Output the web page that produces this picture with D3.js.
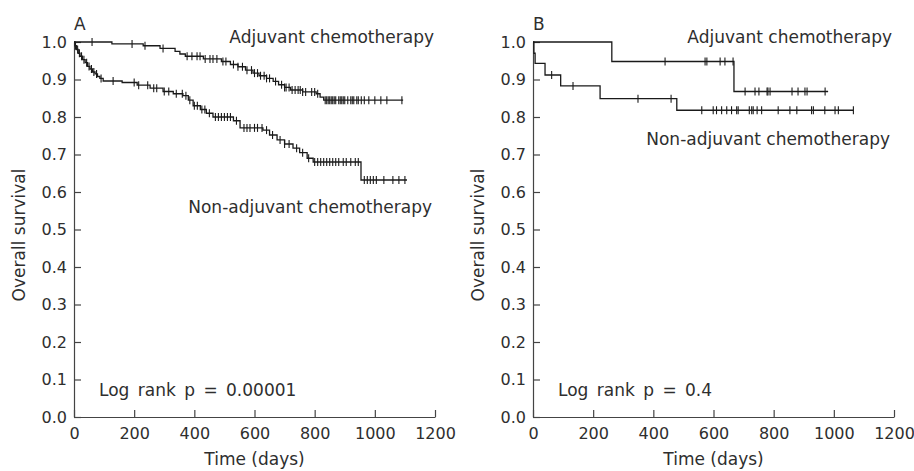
<!DOCTYPE html>
<html lang="en">
<head>
<meta charset="UTF-8" />
<title>Overall survival, adjuvant vs non-adjuvant chemotherapy</title>
<script src="https://d3js.org/d3.v7.min.js"></script>
<style>
    body { margin: 0; background: #fff; }
    svg { display: block; }
    text { font-family: "DejaVu Sans", sans-serif; fill: #2e2e2e; }
</style>
</head>
<body>
<div id="chart"></div>
<script>
    const width = 914;
    const height = 471;

    // tick values
    const xTicks = [0, 200, 400, 600, 800, 1000, 1200];
    const yTicks = [0, 0.1, 0.2, 0.3, 0.4, 0.5, 0.6, 0.7, 0.8, 0.9, 1.0];

    // panel A, adjuvant: [day, survival after the step]
    const aAdjSteps = [[0, 1.0], [126, 0.995], [230, 0.99], [286, 0.983], [336, 0.975], [352, 0.968], [370, 0.962],
        [430, 0.955], [490, 0.948], [520, 0.94], [545, 0.934], [570, 0.925], [595, 0.917], [615, 0.91], [640, 0.903],
        [662, 0.895], [680, 0.886], [700, 0.879], [720, 0.872], [760, 0.867], [805, 0.862], [818, 0.853], [830, 0.845]];
    const aAdjEnd = 1094;
    const aAdjCensor = [60, 193, 236, 296, 376, 392, 409, 419, 436, 452, 462, 475, 495, 505, 530, 545, 560, 575, 590, 600,
        610, 620, 632, 640, 650, 670, 690, 700, 705, 715, 725, 735, 745, 752, 760, 770, 790, 800, 810, 835, 840, 845, 850,
        855, 860, 865, 870, 880, 885, 890, 895, 900, 910, 920, 925, 930, 940, 945, 955, 965, 980, 1000, 1020, 1040, 1090];

    // panel A, non-adjuvant
    const aNonSteps = [[0, 1.0], [3, 0.99], [8, 0.98], [14, 0.97], [20, 0.962], [28, 0.953], [37, 0.945], [45, 0.935],
        [53, 0.928], [62, 0.92], [70, 0.915], [78, 0.908], [86, 0.903], [97, 0.896], [160, 0.892], [210, 0.885],
        [253, 0.877], [296, 0.868], [330, 0.862], [362, 0.857], [380, 0.845], [396, 0.83], [420, 0.82], [440, 0.81],
        [462, 0.80], [530, 0.79], [552, 0.771], [628, 0.765], [650, 0.752], [675, 0.739], [700, 0.728], [728, 0.717],
        [750, 0.705], [775, 0.69], [795, 0.68], [954, 0.632]];
    const aNonEnd = 1107;
    const aNonCensor = [5, 12, 18, 25, 33, 42, 50, 58, 66, 75, 90, 130, 200, 215, 245, 265, 275, 300, 315, 340, 360, 372,
        385, 400, 410, 425, 435, 450, 470, 480, 490, 500, 510, 520, 540, 565, 575, 585, 600, 610, 625, 640, 660, 685, 700,
        715, 740, 760, 780, 800, 810, 820, 830, 840, 850, 860, 870, 880, 895, 905, 920, 935, 945, 965, 975, 985, 995, 1005,
        1030, 1060, 1080, 1100];

    // panel B, adjuvant
    const bAdjSteps = [[0, 1.0], [262, 0.948], [668, 0.868]];
    const bAdjEnd = 981;
    const bAdjCensor = [439, 572, 578, 622, 638, 665, 705, 738, 751, 778, 781, 788, 861, 881, 904, 911, 971];

    // panel B, non-adjuvant
    const bNonSteps = [[0, 1.0], [3, 0.97], [7, 0.943], [40, 0.912], [92, 0.883], [223, 0.849], [478, 0.818]];
    const bNonEnd = 1065;
    const bNonCensor = [62, 133, 349, 459, 561, 599, 610, 627, 644, 660, 677, 682, 719, 727, 732, 745, 760, 815, 854, 877,
        926, 932, 970, 1004, 1015, 1065];

    const svg = d3.select("#chart").append("svg")
        .attr("width", width)
        .attr("height", height);

    const plotTop = 42, plotBottom = 417, plotW = 361;

    function drawPanel(left, letter, curves, labels, pText) {
        const x = d3.scaleLinear().domain([0, 1200]).range([left, left + plotW]);
        const y = d3.scaleLinear().domain([0, 1]).range([plotBottom, plotTop]);
        const g = svg.append("g");

        const xAxis = g.append("g")
            .attr("transform", `translate(0,${plotBottom})`)
            .call(d3.axisBottom(x).tickValues(xTicks).tickFormat(d3.format("d"))
                .tickSize(-7).tickSizeOuter(0).tickPadding(11));
        const yAxis = g.append("g")
            .attr("transform", `translate(${left},0)`)
            .call(d3.axisLeft(y).tickValues(yTicks).tickFormat(d3.format(".1f"))
                .tickSize(-7).tickSizeOuter(0).tickPadding(7));
        [xAxis, yAxis].forEach(a => {
            a.selectAll("path, line").attr("stroke", "#444").attr("stroke-width", 1.2);
            a.selectAll("text").attr("font-size", 16).attr("fill", "#2e2e2e")
                .style("font-family", "'DejaVu Sans', sans-serif");
        });

        g.append("text")
            .attr("x", (x(0) + x(1200)) / 2).attr("y", 465)
            .attr("text-anchor", "middle").attr("font-size", 17)
            .text("Time (days)");
        g.append("text")
            .attr("transform", `translate(${left - 49},235) rotate(-90)`)
            .attr("text-anchor", "middle").attr("font-size", 17)
            .text("Overall survival");
        g.append("text")
            .attr("x", left).attr("y", 30).attr("font-size", 17)
            .text(letter);

        const line = d3.line().x(d => x(d[0])).y(d => y(d[1])).curve(d3.curveStepAfter);
        curves.forEach(c => {
            const pts = c.steps.concat([[c.end, c.steps[c.steps.length - 1][1]]]);
            g.append("path")
                .attr("d", line(pts))
                .attr("fill", "none")
                .attr("stroke", "#1a1a1a")
                .attr("stroke-width", 1.3);
            const survAt = t => {
                let s = 1;
                c.steps.forEach(d => { if (d[0] <= t) s = d[1]; });
                return s;
            };
            // censor ticks
            g.append("g").selectAll("line")
                .data(c.censor)
                .join("line")
                .attr("x1", d => x(d)).attr("x2", d => x(d))
                .attr("y1", d => y(survAt(d)) - 4)
                .attr("y2", d => y(survAt(d)) + 4)
                .attr("stroke", "#1a1a1a")
                .attr("stroke-width", 1.1);
        });

        labels.forEach(l => {
            g.append("text")
                .attr("x", left + l.dx).attr("y", l.y)
                .attr("text-anchor", "end").attr("font-size", 17)
                .text(l.text);
        });
        g.append("text")
            .attr("x", left + 25).attr("y", 396).attr("font-size", 17)
            .attr("word-spacing", 3)
            .text(pText);
    }

    drawPanel(74, "A",
        [{ steps: aAdjSteps, end: aAdjEnd, censor: aAdjCensor },
         { steps: aNonSteps, end: aNonEnd, censor: aNonCensor }],
        [{ text: "Adjuvant chemotherapy", dx: 360, y: 43 },
         { text: "Non-adjuvant chemotherapy", dx: 358, y: 213 }],
        "Log rank p = 0.00001");

    drawPanel(533, "B",
        [{ steps: bAdjSteps, end: bAdjEnd, censor: bAdjCensor },
         { steps: bNonSteps, end: bNonEnd, censor: bNonCensor }],
        [{ text: "Adjuvant chemotherapy", dx: 359, y: 43 },
         { text: "Non-adjuvant chemotherapy", dx: 357, y: 145 }],
        "Log rank p = 0.4");
</script>
</body>
</html>
